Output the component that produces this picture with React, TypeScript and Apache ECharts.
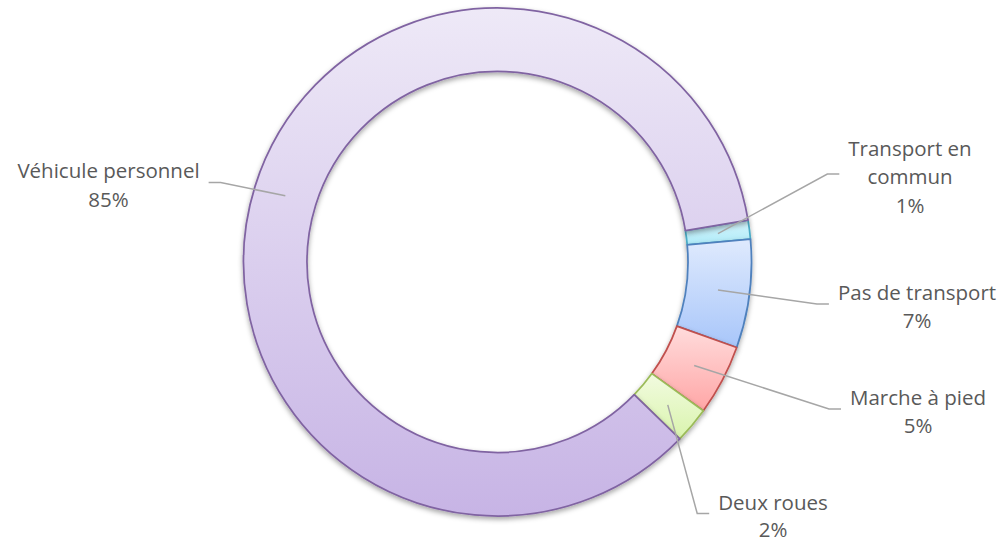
import React, { useEffect, useRef } from "react";
import * as echarts from "echarts";

// ---- data ----
const categories = ["Transport en commun", "Pas de transport", "Marche à pied", "Deux roues", "Véhicule personnel"];
const labelTexts = ["Transport en\ncommun", "Pas de transport", "Marche à pied", "Deux roues", "Véhicule personnel"];
const values = [1.2, 6.9, 4.5, 2.3, 85.1];

// ---- styles / layout ----
const borderColors = ["#4bacc6", "#4f81bd", "#c0504d", "#9bbb59", "#8064a2"];
const gradTop = ["#d6f5fc", "#dfeafd", "#ffdcdc", "#f2fbe0", "#eee9f7"];
const gradBottom = ["#aeeaf8", "#a8c6fa", "#ffa6a6", "#d9f4ad", "#c7b4e5"];
const labelAnchors = [
  [910, 176],
  [917, 306],
  [918, 411],
  [773, 515.5],
  [108.5, 184.5],
];
const labelLineHeights = [28.5, 28.5, 28.5, 27, 28.5];
const CENTER = [497.5, 262];
const R_IN = 190.5;
const R_OUT = 254;
const START_ANGLE = 9.5;

export default function App() {
  const ref = useRef<HTMLDivElement>(null);
  useEffect(() => {
    document.body.style.margin = "0";
    if (!ref.current) return;
    const chart = echarts.init(ref.current, undefined, { renderer: "svg" });
    const total = values.reduce((a, b) => a + b, 0);
    const ringData = categories.map((name, i) => ({
      name,
      value: values[i],
      itemStyle: {
        color: new echarts.graphic.LinearGradient(0, 0, 0, 1, [
          { offset: 0, color: gradTop[i] },
          { offset: 1, color: gradBottom[i] },
        ]),
        borderColor: borderColors[i],
        borderWidth: 1.75,
        shadowBlur: 5,
        shadowOffsetY: 2.5,
        shadowColor: "rgba(0,0,0,0.35)",
      },
    }));
    const labelData = categories.map((name, i) => ({
      name,
      value: values[i],
      label: { lineHeight: labelLineHeights[i] },
    }));
    chart.setOption({
      animation: false,
      backgroundColor: "#ffffff",
      series: [
        {
          type: "pie",
          z: 2,
          center: CENTER,
          radius: [R_IN, R_OUT],
          startAngle: START_ANGLE,
          clockwise: true,
          data: ringData,
          label: { show: false },
          labelLine: { show: false },
          emphasis: { disabled: true },
          silent: true,
        },
        {
          type: "pie",
          z: 5,
          center: CENTER,
          radius: [R_IN, R_OUT],
          startAngle: START_ANGLE,
          clockwise: true,
          avoidLabelOverlap: false,
          data: labelData,
          itemStyle: { color: "rgba(0,0,0,0)", borderWidth: 0 },
          label: {
            show: true,
            position: "outside",
            color: "#595959",
            fontFamily: "Open Sans",
            fontSize: 20.5,
            lineHeight: 28.5,
            align: "center",
            formatter: (p: any) => labelTexts[p.dataIndex] + "\n" + Math.round(p.percent) + "%",
          },
          labelLine: {
            show: true,
            length: 10,
            length2: 10,
            smooth: false,
            lineStyle: { color: "#a6a6a6", width: 1.5 },
          },
          emphasis: { disabled: true },
          silent: true,
          labelLayout: (params: any) => {
            const i = params.dataIndex;
            let acc = 0;
            for (let j = 0; j < i; j++) acc += values[j];
            const midFrac = (acc + values[i] / 2) / total;
            const ang = ((START_ANGLE - midFrac * 360) * Math.PI) / 180;
            const rMid = (R_IN + R_OUT) / 2;
            const sx = CENTER[0] + rMid * Math.cos(ang);
            const sy = CENTER[1] - rMid * Math.sin(ang);
            const [lx, ly] = labelAnchors[i];
            const w = params.labelRect.width;
            const isRight = lx > CENTER[0];
            const ex = isRight ? lx - w / 2 - 9 : lx + w / 2 + 9;
            const ey = ly - 2;
            const kx = isRight ? ex - 12 : ex + 12;
            return {
              x: lx,
              y: ly,
              align: "center",
              verticalAlign: "middle",
              labelLinePoints: [
                [sx, sy],
                [kx, ey],
                [ex, ey],
              ],
            };
          },
        },
      ],
    });
    return () => chart.dispose();
  }, []);
  return <div ref={ref} style={{ width: 1004, height: 543 }} />;
}
